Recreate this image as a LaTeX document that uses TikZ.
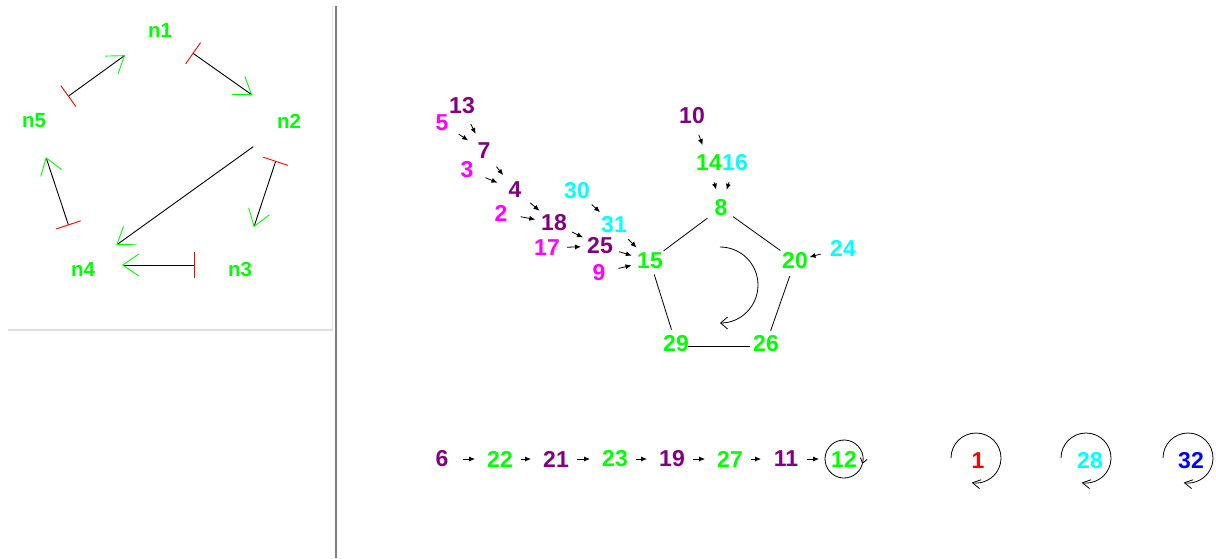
\documentclass[tikz,border=0pt]{standalone}
\usepackage{fontspec}
\setmainfont{Liberation Sans}
\usetikzlibrary{arrows.meta}
\definecolor{lgreen}{HTML}{00FF00}
\definecolor{pur}{HTML}{800080}
\definecolor{mag}{HTML}{FF00FF}
\definecolor{cya}{HTML}{00FFFF}
\definecolor{rd}{HTML}{FF0000}
\definecolor{bl}{HTML}{0000FF}
\definecolor{dgray}{HTML}{808080}
\definecolor{lgray}{HTML}{DEDEDE}
\begin{document}
\begin{tikzpicture}[x=1pt,y=-1pt,
  lbl/.style={inner sep=0pt, font=\fontsize{23}{23}\selectfont\bfseries},
  plbl/.style={inner sep=0pt, text=lgreen, font=\fontsize{20.5}{21}\selectfont\bfseries},
  inh/.style={draw=black, line width=0.9pt, {Bar[color=rd,width=26pt]}-{Straight Barb[color=lgreen,length=16pt,width=22pt]}},
  inhn/.style={draw=black, line width=0.9pt, -{Straight Barb[color=lgreen,length=16pt,width=22pt]}},
  sarr/.style={draw=black, line width=0.8pt, shorten <=20pt, shorten >=19pt, -{Latex[length=6pt,width=5pt]}},
  carr/.style={draw=black, line width=0.8pt, shorten <=20.5pt, shorten >=25pt, -{Latex[length=6pt,width=5pt]}},
  pedge/.style={draw=black, line width=0.8pt},
  loopa/.style={draw=black, line width=0.8pt, -{Straight Barb[length=8pt,width=9pt]}}
]
\useasboundingbox (0,0) rectangle (1216,558);
\fill[white] (0,0) rectangle (1216,558);
% panel frames
\draw[lgray, line width=1.5pt] (8,330) -- (332.5,330) -- (332.5,6);
\draw[dgray, line width=2pt] (335.5,6) -- (335.5,558);

% left panel
\node[plbl] (n1) at (160,30) {n1};
\node[plbl] (n2) at (289,121) {n2};
\node[plbl] (n3) at (240,269) {n3};
\node[plbl] (n4) at (83,269) {n4};
\node[plbl] (n5) at (34,121) {n5};
\draw[inh, shorten <=42pt, shorten >=43pt] (n5.center) -- (n1.center);
\draw[inh, shorten <=40pt, shorten >=45pt] (n1.center) -- (n2.center);
\draw[inhn, shorten <=44pt, shorten >=41pt] (n2.center) -- (n4.center);
\draw[inh, shorten <=42pt, shorten >=44pt] (n2.center) -- (n3.center);
\draw[inh, shorten <=45pt, shorten >=39pt] ([yshift=4pt]n3.center) -- ([yshift=4pt]n4.center);
\draw[inh, shorten <=46pt, shorten >=38pt] (n4.center) -- (n5.center);

% main panel nodes
\node[lbl,text=pur] (m13) at (462,106) {13};
\node[lbl,text=mag] (m5) at (442,123) {5};
\node[lbl,text=pur] (m7) at (484,151) {7};
\node[lbl,text=mag] (m3) at (467,170) {3};
\node[lbl,text=pur] (m4) at (515,190) {4};
\node[lbl,text=mag] (m2) at (501,213) {2};
\node[lbl,text=pur] (m18) at (554,223) {18};
\node[lbl,text=mag] (m17) at (547,248) {17};
\node[lbl,text=pur] (m25) at (600,246) {25};
\node[lbl,text=mag] (m9) at (599,273) {9};
\node[lbl,text=cya] (m30) at (577,191) {30};
\node[lbl,text=cya] (m31) at (614,225) {31};
\node[lbl,text=lgreen] (m15) at (650,261) {15};
\node[lbl,text=pur] (m10) at (692,116) {10};
\node[lbl,text=lgreen] (m14) at (709,163) {14};
\node[lbl,text=cya] (m16) at (735,163) {16};
\node[lbl,text=lgreen] (m8) at (721,208) {8};
\node[lbl,text=lgreen] (m20) at (795,261) {20};
\node[lbl,text=cya] (m24) at (843,248) {24};
\node[lbl,text=lgreen] (m29) at (676,344) {29};
\node[lbl,text=lgreen] (m26) at (766,344) {26};

\node[lbl,text=pur] (m6) at (442,459) {6};
\node[lbl,text=lgreen] (m22) at (500,459) {22};
\node[lbl,text=pur] (m21) at (556,459) {21};
\node[lbl,text=lgreen] (m23) at (615,459) {23};
\node[lbl,text=pur] (m19) at (672,459) {19};
\node[lbl,text=lgreen] (m27) at (730,459) {27};
\node[lbl,text=pur] (m11) at (786,459) {11};
\node[lbl,text=lgreen] (m12) at (844,459) {12};

\node[lbl,text=rd] (m1) at (978,461) {1};
\node[lbl,text=cya] (m28) at (1090,461) {28};
\node[lbl,text=bl] (m32) at (1191,461) {32};

% tree arrows
\draw[sarr] (m13.center) -- (m7.center);
\draw[sarr] (m5.center) -- (m7.center);
\draw[sarr] (m7.center) -- (m4.center);
\draw[sarr] (m3.center) -- (m4.center);
\draw[sarr] (m4.center) -- (m18.center);
\draw[sarr] (m2.center) -- (m18.center);
\draw[sarr] (m18.center) -- (m25.center);
\draw[sarr] (m17.center) -- (m25.center);
\draw[sarr] (m25.center) -- (m15.center);
\draw[sarr] (m9.center) -- (m15.center);
\draw[sarr] (m30.center) -- (m31.center);
\draw[sarr] (m31.center) -- (m15.center);
\draw[sarr] (m10.center) -- (m14.center);
\draw[sarr] (m14.center) -- (m8.center);
\draw[sarr] (m16.center) -- (m8.center);
\draw[sarr, shorten <=23pt, shorten >=15pt] (m24.center) -- (m20.center);

% pentagon
\draw[pedge, shorten <=17pt, shorten >=17pt] (m8.center) -- (m15.center);
\draw[pedge, shorten <=15pt, shorten >=18pt] (m8.center) -- (m20.center);
\draw[pedge, shorten <=14pt, shorten >=15pt] (m15.center) -- (m29.center);
\draw[pedge, shorten <=16pt, shorten >=14pt] (m20.center) -- (m26.center);
\draw[pedge, shorten <=12pt, shorten >=16pt] ([yshift=-2pt]m29.center) -- ([yshift=-2pt]m26.center);
\draw[pedge, -{Straight Barb[length=7pt,width=12pt]}] (720,247) arc[start angle=-90, end angle=90, radius=38];

% chain
\draw[carr] (m6.center) -- (m22.center);
\draw[carr] (m22.center) -- (m21.center);
\draw[carr] (m21.center) -- (m23.center);
\draw[carr] (m23.center) -- (m19.center);
\draw[carr] (m19.center) -- (m27.center);
\draw[carr] (m27.center) -- (m11.center);
\draw[carr] (m11.center) -- (m12.center);

% loops
\draw[loopa, -{Straight Barb[length=5pt,width=7pt]}] ([shift={(15:19)}]m12.center) arc[start angle=15, end angle=375, radius=19];
\draw[loopa] ([shift={(-27,-3)}]m1.center) arc[start angle=180, end angle=460, radius=25];
\draw[loopa] ([shift={(-29,-3)}]m28.center) arc[start angle=180, end angle=460, radius=25];
\draw[loopa] ([shift={(-28,-3)}]m32.center) arc[start angle=180, end angle=460, radius=25];
\end{tikzpicture}
\end{document}
